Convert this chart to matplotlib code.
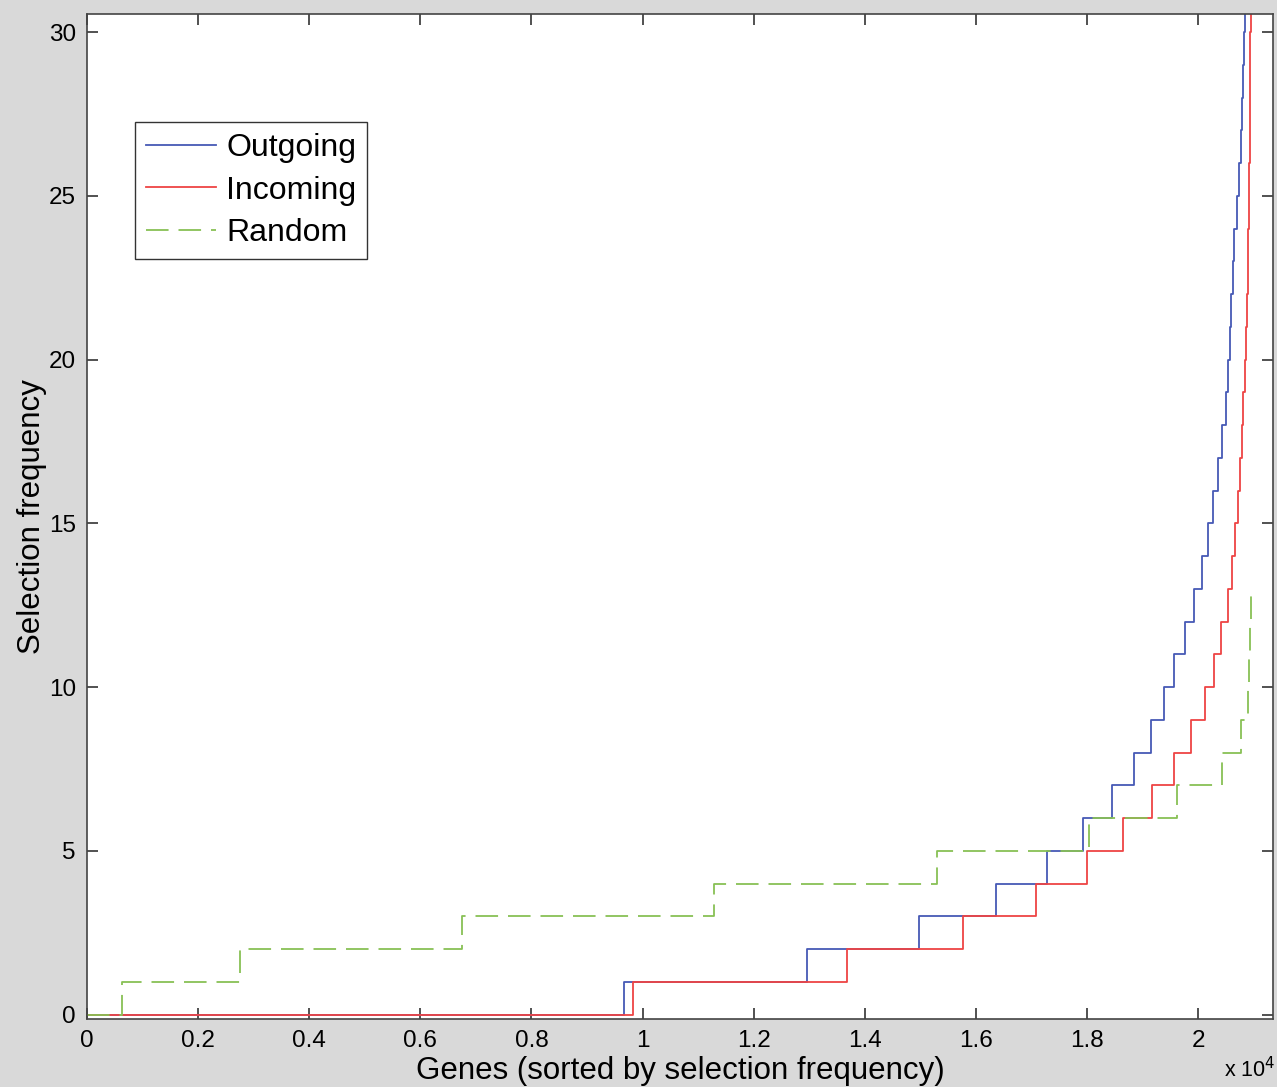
import numpy as np
import matplotlib
matplotlib.use("Agg")
import matplotlib.pyplot as plt

plt.rcParams['font.family'] = ['Liberation Sans', 'DejaVu Sans']

# Gene index (x) where each curve steps up to the next level
out_x = [0, 9667, 12956, 14983, 16358, 17276, 17924, 18446, 18848, 19148, 19388,
         19573, 19766, 19933, 20067, 20175, 20276, 20355, 20427, 20504, 20545,
         20570, 20594, 20625, 20653, 20697, 20733, 20769, 20792, 20810, 20833,
         20851, 20950]
out_y = [0, 1, 2, 3, 4, 5, 6, 7, 8, 9, 10,
         11, 12, 13, 14, 15, 16, 17, 18, 19, 20,
         21, 22, 23, 24, 25, 26, 27, 28, 29, 30,
         31, 31]

in_x = [0, 9834, 13681, 15775, 17084, 18002, 18655, 19177, 19568, 19869, 20121,
        20294, 20414, 20535, 20607, 20666, 20720, 20756, 20792, 20815, 20846,
        20864, 20882, 20894, 20905, 20916, 20925, 20930, 20936, 20940, 20944,
        20948, 20955]
in_y = [0, 1, 2, 3, 4, 5, 6, 7, 8, 9, 10,
        11, 12, 13, 14, 15, 16, 17, 18, 19, 20,
        21, 22, 23, 24, 25, 26, 27, 28, 29, 30,
        31, 31]

rnd_x = [0, 625, 2754, 6745, 11294, 15296, 18038, 19627, 20426, 20768, 20900,
         20925, 20935, 20945]
rnd_y = [0, 1, 2, 3, 4, 5, 6, 7, 8, 9, 10, 11, 12, 13]

xticks = [0, 2000, 4000, 6000, 8000, 10000, 12000, 14000, 16000, 18000, 20000]
xtick_labels = ['0', '0.2', '0.4', '0.6', '0.8', '1', '1.2', '1.4', '1.6', '1.8', '2']
yticks = [0, 5, 10, 15, 20, 25, 30]

fig = plt.figure(figsize=(12.77, 10.87), dpi=100, facecolor='#d9d9d9')
ax = fig.add_axes([0.0681, 0.0626, 0.9288, 0.9245])
ax.set_facecolor('white')

ax.step(out_x, out_y, where='post', color='#4659b5', lw=1.3, label='Outgoing')
ax.step(in_x, in_y, where='post', color='#ee4444', lw=1.3, label='Incoming')
ax.step(rnd_x, rnd_y, where='post', color='#88c055', lw=1.3,
        linestyle=(0, (12.5, 5.5)), label='Random')

ax.set_xlim(0, 21350)
ax.set_ylim(-0.13, 30.55)
ax.set_xticks(xticks)
ax.set_xticklabels(xtick_labels)
ax.set_yticks(yticks)
ax.tick_params(direction='in', length=8, width=1.2, color='#333333',
               top=True, right=True, labelsize=17.5, pad=8)
for s in ax.spines.values():
    s.set_color('#444444')
    s.set_linewidth(1.2)

ax.set_xlabel('Genes (sorted by selection frequency)', fontsize=22.5, labelpad=3)
ax.set_ylabel('Selection frequency', fontsize=22.5, labelpad=1)
fig.text(0.9585, 0.004, r'x 10$^4$', fontsize=15.5, ha='left', va='bottom')

leg = ax.legend(loc='upper left', bbox_to_anchor=(0.0405, 0.893), borderaxespad=0,
                fontsize=23, fancybox=False, edgecolor='#333333', framealpha=1,
                handlelength=2.2, handletextpad=0.3, labelspacing=0.4,
                borderpad=0.35)
leg.get_frame().set_linewidth(1.0)

fig.savefig('out.png', dpi=100, facecolor=fig.get_facecolor())
